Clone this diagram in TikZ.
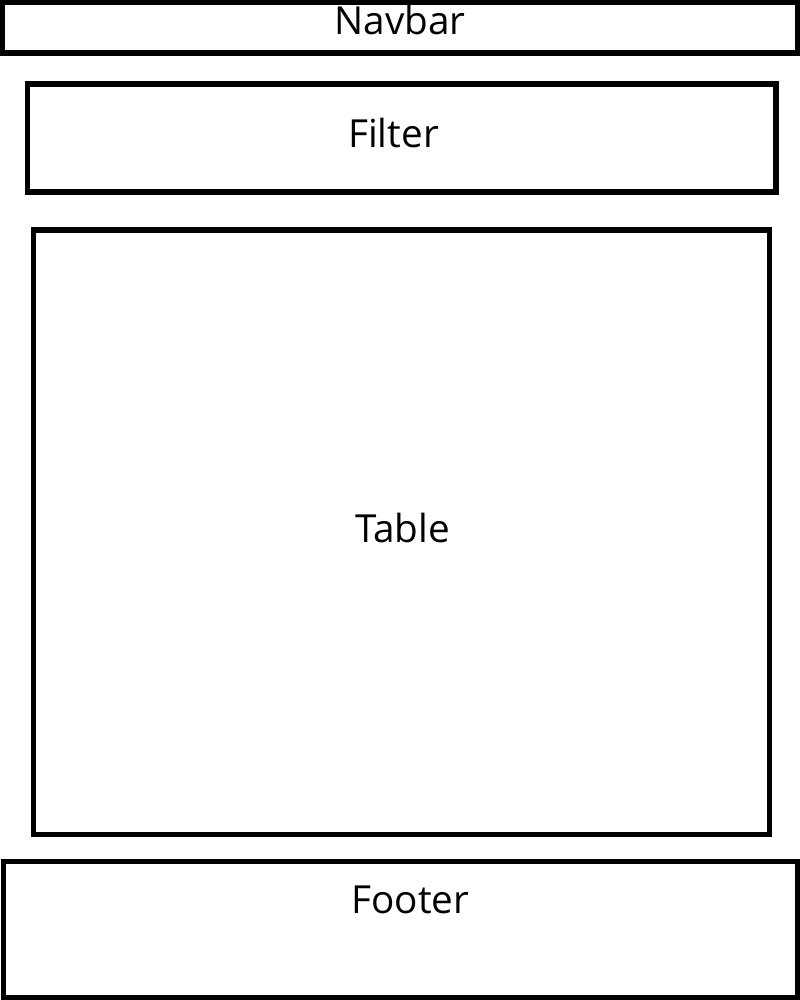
\documentclass[tikz,border=0pt]{standalone}
\usepackage{fontspec}
\setmainfont{Open Sans}
\newcommand{\px}{0.025cm}
\tikzset{
  block/.style={draw, rectangle, line width=5.5*\px, inner sep=0pt, outer sep=0pt},
  blocktext/.style={anchor=base, inner sep=0pt, font=\fontsize{27.5}{32}\selectfont}
}

\begin{document}
\begin{tikzpicture}[x=\px, y=-\px]
            \useasboundingbox (0,0) rectangle (800,1000);
            % page regions
            \node[block, minimum width=795.5*\px, minimum height=51*\px] (navbar) at (399.75,27.5) {};
            \node[block, minimum width=748.5*\px, minimum height=108*\px] (filter) at (401.75,138) {};
            \node[block, minimum width=736*\px, minimum height=604.5*\px] (table) at (401.5,532.25) {};
            \node[block, minimum width=794*\px, minimum height=136.5*\px] (footer) at (400.5,929.75) {};
            % labels
            \node[blocktext] (navbartext) at (400,34) {Navbar};
            \node[blocktext] (filtertext) at (393.5,147.7) {Filter};
            \node[blocktext] (tabletext) at (402.5,542.7) {Table};
            \node[blocktext] (footertext) at (410.3,913.3) {Footer};
        \end{tikzpicture}
\end{document}
